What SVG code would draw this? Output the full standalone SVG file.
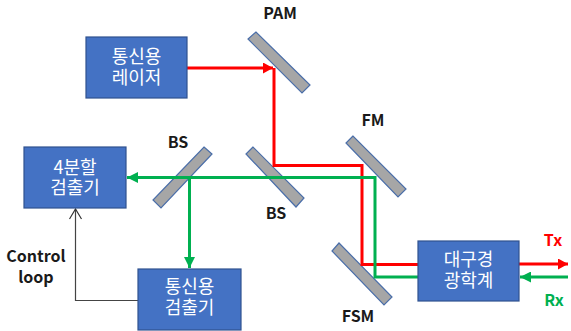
<svg xmlns="http://www.w3.org/2000/svg" width="571" height="331" viewBox="0 0 571 331">
<style>
text{font-family:"Noto Sans CJK KR","Noto Sans",sans-serif}
.box{fill:#4472c4;stroke:#2f528f;stroke-width:1.2}
.bt{fill:#fff;font-size:18px;text-anchor:middle}
.mir{fill:#a6a6a6;stroke:#4a6ea9;stroke-width:1.2}
.lb{fill:#1a1a1a;font-size:16px;font-weight:700;text-anchor:middle}
.r{fill:none;stroke:#ff0000;stroke-width:3}
.g{fill:none;stroke:#00b050;stroke-width:3}
</style>
<defs>
<marker id="ar" markerUnits="userSpaceOnUse" markerWidth="10" markerHeight="11" refX="10" refY="5.500" orient="auto"><path d="M0 0L10 5.500L0 11z" fill="#ff0000"/></marker>
<marker id="ag" markerUnits="userSpaceOnUse" markerWidth="11" markerHeight="11" refX="11" refY="5.500" orient="auto"><path d="M0 0L11 5.500L0 11z" fill="#00b050"/></marker>
<marker id="ak" markerUnits="userSpaceOnUse" markerWidth="12" markerHeight="14" refX="11" refY="7" orient="auto"><path d="M1 1L11 7L1 13" fill="none" stroke="#333" stroke-width="1.2"/></marker>
</defs>
<g id="mirror-pam"><polygon class="mir" points="256,32 248,39 302,93 310,85"/><text class="lb" x="280" y="19">PAM</text></g>
<g id="mirror-bs1"><polygon class="mir" points="204,147 212,154 161,208 153,200"/><text class="lb" x="178" y="148">BS</text></g>
<g id="mirror-bs2"><polygon class="mir" points="253,147 246,154 296,207 304,198"/><text class="lb" x="276" y="219">BS</text></g>
<g id="mirror-fm"><polygon class="mir" points="353,136 346,143 398,197 406,189"/><text class="lb" x="373" y="126">FM</text></g>
<g id="mirror-fsm"><polygon class="mir" points="339,243 332,251 384,305 392,297"/><text class="lb" x="358" y="322">FSM</text></g>
<g id="connectors">
<path class="r" d="M187 68H273" marker-end="url(#ar)"/>
<path class="r" d="M274 68V165.500H362V264.500H418"/>
<path class="r" d="M519 264H568" marker-end="url(#ar)"/>
<path class="g" d="M418 277H375V177.500H127" marker-end="url(#ag)"/>
<path class="g" d="M568 277H520" marker-end="url(#ag)"/>
<path class="g" d="M189.500 177.500V268" marker-end="url(#ag)"/>
<path d="M138 300.500H75.500V209" fill="none" stroke="#444" stroke-width="1.2" marker-end="url(#ak)"/>
</g>
<g id="node-laser"><rect class="box" x="86" y="37" width="101" height="61"/><text class="bt" y="63"><tspan x="136.500">통신용</tspan><tspan x="136.500" dy="20.500">레이저</tspan></text></g>
<g id="node-quad"><rect class="box" x="24" y="147" width="102" height="61"/><text class="bt" y="174"><tspan x="75">4분할</tspan><tspan x="75" dy="20">검출기</tspan></text></g>
<g id="node-det"><rect class="box" x="138" y="269" width="103" height="61"/><text class="bt" y="293"><tspan x="189.500">통신용</tspan><tspan x="189.500" dy="20.500">검출기</tspan></text></g>
<g id="node-tel"><rect class="box" x="418" y="241" width="101" height="60"/><text class="bt" y="266"><tspan x="468.500">대구경</tspan><tspan x="468.500" dy="20.500">광학계</tspan></text></g>
<g id="labels">
<text class="lb" y="262"><tspan x="36">Control</tspan><tspan x="36" dy="21">loop</tspan></text>
<text class="lb" x="553" y="246" style="fill:#ff0000">Tx</text>
<text class="lb" x="554" y="306" style="fill:#00b050">Rx</text>
</g>
</svg>
